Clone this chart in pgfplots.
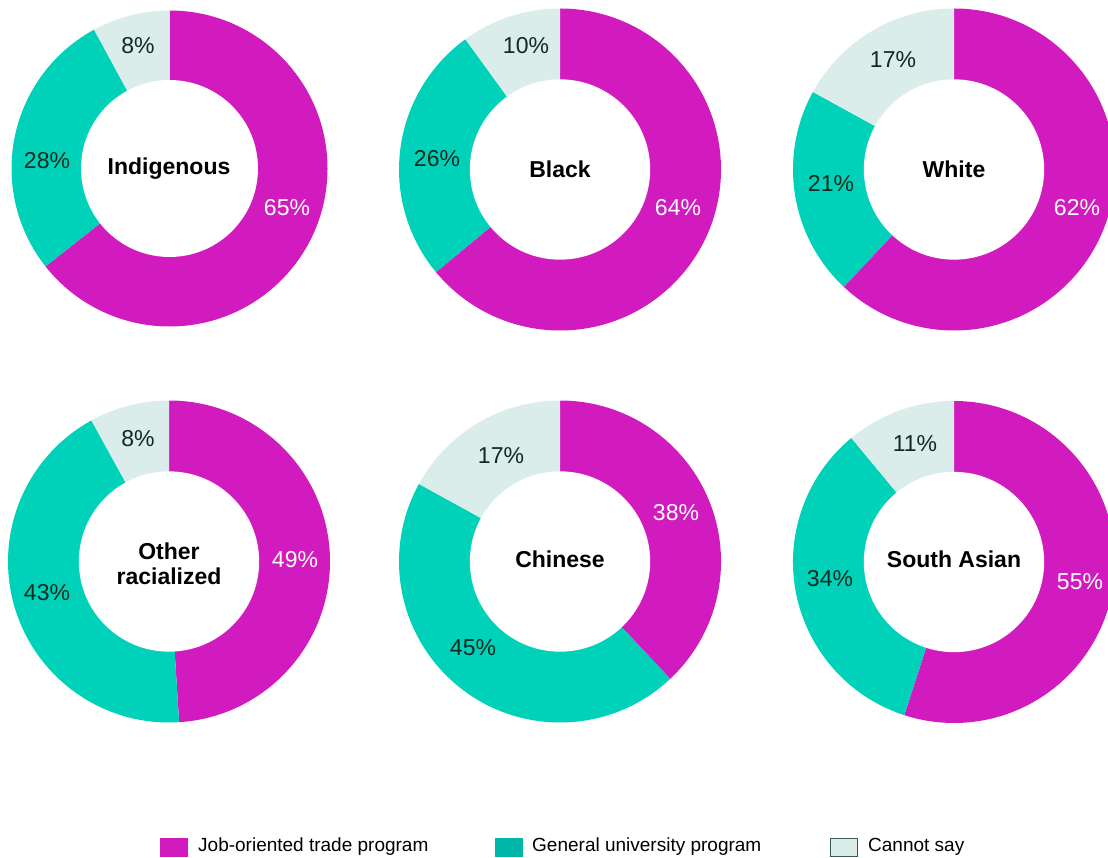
\documentclass[border=0pt]{standalone}
\usepackage{fontspec}
\setmainfont{Liberation Sans}
\usepackage{pgfplots}
\usepackage{pgfplotstable}
\pgfplotsset{compat=1.18}
\definecolor{jobc}{HTML}{D21BBF}
\definecolor{unic}{HTML}{00D2B9}
\definecolor{cantc}{HTML}{DAEDEB}
\definecolor{unileg}{HTML}{00B8AA}
\definecolor{txtdark}{HTML}{0E2A22}
\definecolor{legborder}{HTML}{3A5A55}

% one row per donut: centre (px), outer radius (px), shares in percent
\pgfplotstableread{
cx    cy     R    job uni cant
169.5 168.5  158  65  28  8
560   169.5  161  64  26  10
954   169.5  161  62  21  17
169   561.5  161  49  43  8
560   561.5  161  38  45  17
954   562    161  55  34  11
}\donuts

\newcommand\getd[2]{\pgfplotstablegetelem{#1}{#2}\of\donuts\expandafter\xdef\csname d#2#1\endcsname{\pgfplotsretval}}
\newcommand\D[2]{\csname d#1#2\endcsname}
\foreach \i in {0,...,5}{%
  \getd{\i}{cx}\getd{\i}{cy}\getd{\i}{R}\getd{\i}{job}\getd{\i}{uni}\getd{\i}{cant}%
  \pgfmathsetmacro\tot{\D{job}{\i}+\D{uni}{\i}+\D{cant}{\i}}%
  \pgfmathsetmacro\aone{90-360*(\D{job}{\i}/\tot)}%
  \pgfmathsetmacro\atwo{90-360*((\D{job}{\i}+\D{uni}{\i})/\tot)}%
  \pgfmathsetmacro\rin{0.56*\D{R}{\i}}%
  \expandafter\xdef\csname daone\i\endcsname{\aone}%
  \expandafter\xdef\csname datwo\i\endcsname{\atwo}%
  \expandafter\xdef\csname drin\i\endcsname{\rin}%
}

\newcommand\pct{\fontsize{23}{26}\selectfont}
\newcommand\ctr{\fontsize{23}{25}\selectfont\bfseries}
\newcommand\leg{\fontsize{19}{22}\selectfont}

\begin{document}
\begin{tikzpicture}
\begin{axis}[x=1pt, y=1pt, xmin=0, xmax=1108, ymin=0, ymax=858, y dir=reverse,
  hide axis, scale only axis]
\path (axis cs:0,0) rectangle (axis cs:1108,858);
\pgfplotsinvokeforeach{0,...,5}{
  \fill[jobc] (axis cs:\D{cx}{#1},\D{cy}{#1}) -- ++(90:\D{R}{#1}pt)
     arc[start angle=90, end angle=\D{aone}{#1}, radius=\D{R}{#1}pt] -- cycle;
  \fill[unic] (axis cs:\D{cx}{#1},\D{cy}{#1}) -- ++(\D{aone}{#1}:\D{R}{#1}pt)
     arc[start angle=\D{aone}{#1}, end angle=\D{atwo}{#1}, radius=\D{R}{#1}pt] -- cycle;
  \fill[cantc] (axis cs:\D{cx}{#1},\D{cy}{#1}) -- ++(\D{atwo}{#1}:\D{R}{#1}pt)
     arc[start angle=\D{atwo}{#1}, end angle=-270, radius=\D{R}{#1}pt] -- cycle;
  \fill[white] (axis cs:\D{cx}{#1},\D{cy}{#1}) circle[radius=\D{rin}{#1}pt];
}
% Indigenous
\node[font=\pct, text=txtdark] at (axis cs:138,46) {8\%};
\node[font=\pct, text=txtdark] at (axis cs:47,161) {28\%};
\node[font=\pct, text=white] at (axis cs:287,208) {65\%};
\node[font=\ctr] at (axis cs:169,169) {Indigenous};
% Black
\node[font=\pct, text=txtdark] at (axis cs:526,46) {10\%};
\node[font=\pct, text=txtdark] at (axis cs:437,159) {26\%};
\node[font=\pct, text=white] at (axis cs:678,208) {64\%};
\node[font=\ctr] at (axis cs:560,169) {Black};
% White
\node[font=\pct, text=txtdark] at (axis cs:893,60) {17\%};
\node[font=\pct, text=txtdark] at (axis cs:831,184) {21\%};
\node[font=\pct, text=white] at (axis cs:1077,208) {62\%};
\node[font=\ctr] at (axis cs:954,169) {White};
% Other racialized
\node[font=\pct, text=txtdark] at (axis cs:138,439) {8\%};
\node[font=\pct, text=txtdark] at (axis cs:47,593) {43\%};
\node[font=\pct, text=white] at (axis cs:295,560) {49\%};
\node[font=\ctr, align=center] at (axis cs:169,564) {Other\\racialized};
% Chinese
\node[font=\pct, text=txtdark] at (axis cs:501,456) {17\%};
\node[font=\pct, text=txtdark] at (axis cs:473,648) {45\%};
\node[font=\pct, text=white] at (axis cs:676,513) {38\%};
\node[font=\ctr] at (axis cs:560,559) {Chinese};
% South Asian
\node[font=\pct, text=txtdark] at (axis cs:915,444) {11\%};
\node[font=\pct, text=txtdark] at (axis cs:830,579) {34\%};
\node[font=\pct, text=white] at (axis cs:1080,582) {55\%};
\node[font=\ctr] at (axis cs:954,559) {South Asian};
% legend
\fill[jobc] (axis cs:160,838) rectangle (axis cs:188,857);
\node[font=\leg, anchor=west, inner sep=0pt] at (axis cs:198,847) {Job-oriented trade program};
\fill[unileg] (axis cs:495,838) rectangle (axis cs:523,857);
\node[font=\leg, anchor=west, inner sep=0pt] at (axis cs:532,847) {General university program};
\filldraw[fill=cantc, draw=legborder, line width=1pt] (axis cs:830.5,838.5) rectangle (axis cs:857.5,856.5);
\node[font=\leg, anchor=west, inner sep=0pt] at (axis cs:868,847) {Cannot say};
\end{axis}
\end{tikzpicture}
\end{document}
